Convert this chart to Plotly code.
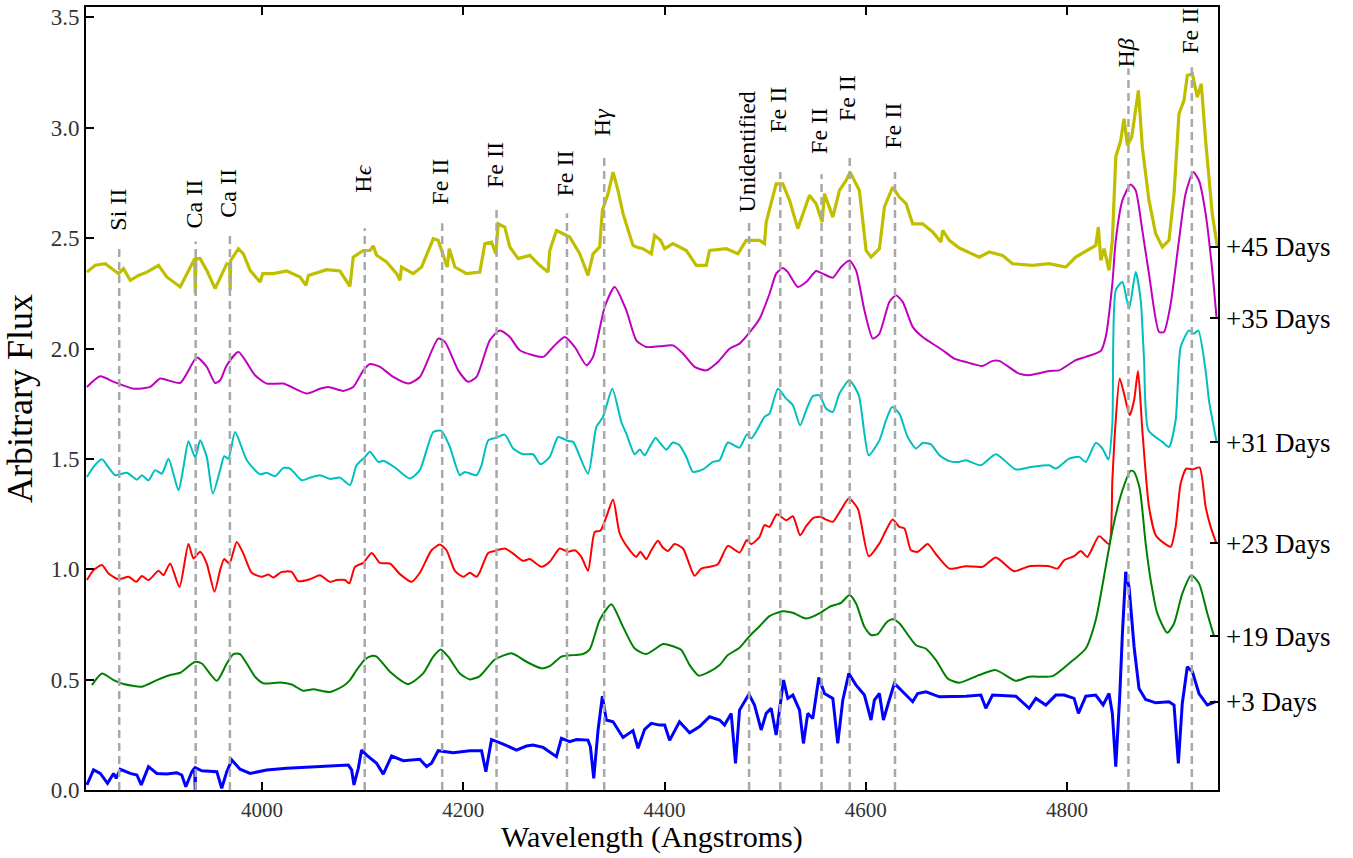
import plotly.graph_objects as go

# ---------------- data ----------------
w45 = [3825.9,3834.2,3844.1,3852.4,3857.4,3862.3,3869.0,3877.2,3885.5,3897.1,3905.3,3918.6,3928.5,3933.0,3933.6,3934.2,3938.4,3945.0,3953.3,3959.9,3964.9,3967.8,3968.3,3968.8,3976.5,3981.4,3988.1,3998.0,4000.6,4011.2,4024.5,4037.7,4043.6,4046.0,4064.2,4077.4,4084.0,4087.3,4090.6,4100.6,4107.2,4110.5,4113.8,4123.7,4133.7,4137.0,4138.6,4150.2,4158.5,4170.1,4175.0,4181.7,4184.0,4186.0,4191.6,4203.2,4216.4,4221.4,4228.0,4232.3,4234.6,4241.2,4246.2,4254.5,4266.0,4275.9,4284.2,4285.9,4292.5,4299.1,4305.7,4315.7,4323.9,4328.9,4335.5,4338.2,4343.8,4348.8,4353.7,4358.7,4368.6,4371.9,4378.5,4386.8,4390.1,4396.0,4400.1,4408.3,4421.6,4431.5,4441.4,4444.7,4461.3,4472.9,4481.1,4494.4,4499.3,4501.0,4510.9,4517.5,4524.2,4532.4,4537.4,4544.0,4550.6,4556.6,4558.9,4567.2,4573.8,4580.4,4584.4,4593.6,4600.3,4605.2,4613.5,4618.5,4626.7,4633.3,4640.0,4646.6,4656.5,4666.4,4674.7,4676.4,4683.0,4692.9,4712.7,4722.6,4735.8,4745.8,4765.6,4782.2,4798.7,4808.6,4828.5,4831.1,4833.5,4836.8,4841.7,4845.0,4848.4,4853.3,4856.6,4859.9,4864.2,4868.2,4870.9,4874.8,4881.4,4888.1,4894.7,4901.3,4906.3,4911.2,4916.2,4919.5,4924.5,4929.4,4933.4,4937.7,4944.3,4949.3]
f45 = [2.346,2.377,2.384,2.354,2.339,2.362,2.309,2.331,2.346,2.377,2.324,2.279,2.369,2.407,2.248,2.407,2.407,2.354,2.271,2.339,2.384,2.384,2.264,2.399,2.452,2.429,2.354,2.301,2.339,2.339,2.351,2.324,2.286,2.331,2.357,2.351,2.309,2.282,2.414,2.444,2.444,2.465,2.422,2.392,2.339,2.309,2.369,2.339,2.369,2.497,2.490,2.399,2.369,2.452,2.369,2.339,2.346,2.475,2.482,2.429,2.565,2.550,2.460,2.407,2.422,2.377,2.346,2.444,2.535,2.520,2.505,2.429,2.331,2.429,2.460,2.626,2.701,2.799,2.716,2.611,2.467,2.460,2.452,2.429,2.512,2.490,2.452,2.475,2.444,2.377,2.377,2.444,2.452,2.429,2.490,2.490,2.475,2.573,2.746,2.746,2.671,2.543,2.611,2.694,2.656,2.573,2.701,2.595,2.716,2.761,2.799,2.716,2.444,2.414,2.452,2.641,2.731,2.686,2.656,2.565,2.565,2.528,2.482,2.535,2.490,2.455,2.414,2.437,2.422,2.384,2.377,2.384,2.369,2.414,2.467,2.550,2.399,2.452,2.354,2.490,2.867,2.942,3.041,2.920,2.957,3.093,3.169,2.912,2.671,2.520,2.460,2.490,2.701,3.063,3.124,3.237,3.244,3.139,3.199,2.942,2.611,2.460]

w35 = [3825.9,3839.2,3852.4,3872.2,3888.8,3898.7,3918.6,3935.1,3945.0,3953.3,3958.3,3964.9,3976.5,3993.0,4004.6,4021.2,4044.3,4057.5,4065.8,4080.7,4090.6,4100.6,4107.2,4117.1,4130.4,4145.3,4156.8,4175.0,4181.7,4194.9,4204.8,4213.1,4226.3,4236.2,4246.2,4256.1,4279.3,4289.2,4300.8,4310.7,4322.3,4328.9,4340.5,4350.4,4362.0,4371.9,4381.8,4395.1,4408.3,4418.3,4429.8,4441.4,4453.0,4464.6,4474.5,4486.1,4494.4,4504.3,4510.9,4517.5,4522.5,4532.4,4540.7,4550.6,4557.2,4567.2,4575.4,4583.7,4590.3,4598.6,4606.9,4613.5,4623.4,4630.0,4636.7,4646.6,4656.5,4676.4,4687.9,4699.4,4716.0,4725.9,4732.5,4752.4,4762.3,4782.2,4792.1,4808.6,4818.6,4833.5,4838.4,4845.0,4848.4,4855.0,4863.2,4868.2,4874.8,4881.4,4891.4,4896.3,4903.0,4911.2,4917.8,4925.4,4931.1,4937.7,4944.3,4948.6]
f35 = [1.826,1.874,1.849,1.818,1.826,1.864,1.844,1.959,1.917,1.844,1.856,1.924,1.984,1.879,1.841,1.841,1.796,1.818,1.826,1.808,1.826,1.901,1.930,1.917,1.871,1.841,1.871,2.045,2.030,1.901,1.849,1.871,2.037,2.082,2.052,1.992,1.962,2.007,2.052,2.007,1.924,1.962,2.188,2.279,2.173,2.037,2.007,2.010,2.014,1.977,1.917,1.901,1.939,1.999,2.022,2.082,2.135,2.248,2.339,2.365,2.346,2.279,2.301,2.351,2.339,2.321,2.369,2.399,2.354,2.173,2.045,2.067,2.211,2.241,2.211,2.098,2.052,1.992,1.954,1.939,1.921,1.944,1.944,1.886,1.879,1.898,1.901,1.947,1.962,1.989,2.052,2.294,2.490,2.671,2.743,2.716,2.535,2.339,2.075,2.075,2.203,2.490,2.701,2.799,2.761,2.611,2.354,2.136]

w31 = [3825.9,3832.5,3840.8,3847.4,3854.0,3865.6,3875.6,3880.5,3887.1,3893.7,3900.4,3907.0,3916.9,3921.9,3926.8,3933.5,3938.4,3945.0,3951.0,3958.3,3962.3,3966.5,3973.2,3984.8,3998.0,4004.6,4012.9,4021.2,4027.8,4039.4,4047.6,4057.5,4067.5,4077.4,4087.3,4093.9,4102.2,4107.2,4115.5,4120.4,4132.0,4146.9,4156.8,4170.1,4178.3,4186.6,4196.5,4201.5,4213.1,4218.1,4224.7,4232.9,4241.2,4249.5,4259.4,4269.3,4276.6,4285.9,4294.2,4304.1,4309.1,4323.9,4332.2,4338.8,4348.1,4357.0,4362.0,4370.3,4375.3,4380.2,4385.2,4391.1,4395.0,4401.7,4408.3,4414.8,4421.6,4428.2,4438.1,4448.0,4454.7,4462.9,4474.5,4481.8,4486.1,4492.7,4499.3,4504.3,4512.6,4520.8,4527.5,4534.7,4540.7,4547.3,4553.9,4560.5,4567.2,4573.8,4583.7,4593.0,4598.6,4602.9,4613.5,4620.1,4626.1,4633.3,4641.6,4649.9,4656.5,4664.8,4673.1,4683.0,4692.9,4699.4,4714.3,4729.2,4749.1,4765.6,4782.2,4788.8,4802.0,4812.0,4818.6,4828.5,4835.1,4841.1,4845.0,4848.4,4855.0,4861.6,4868.2,4873.2,4876.5,4880.8,4894.7,4901.3,4907.9,4912.9,4921.2,4926.1,4930.4,4937.7,4941.0,4948.6]
f31 = [1.418,1.464,1.498,1.461,1.426,1.437,1.406,1.426,1.403,1.449,1.433,1.501,1.358,1.464,1.580,1.506,1.584,1.509,1.343,1.449,1.512,1.501,1.622,1.494,1.430,1.437,1.421,1.459,1.456,1.403,1.415,1.426,1.409,1.415,1.381,1.471,1.509,1.532,1.486,1.491,1.461,1.411,1.449,1.622,1.627,1.554,1.426,1.441,1.426,1.471,1.584,1.596,1.610,1.547,1.521,1.521,1.476,1.509,1.599,1.581,1.577,1.433,1.645,1.690,1.818,1.667,1.614,1.521,1.542,1.516,1.554,1.596,1.575,1.542,1.574,1.562,1.509,1.441,1.452,1.486,1.494,1.574,1.551,1.611,1.592,1.637,1.690,1.705,1.818,1.773,1.743,1.652,1.720,1.784,1.788,1.728,1.713,1.796,1.856,1.788,1.614,1.516,1.584,1.675,1.735,1.705,1.599,1.547,1.572,1.566,1.516,1.490,1.486,1.494,1.471,1.521,1.452,1.464,1.471,1.456,1.501,1.509,1.486,1.572,1.547,1.497,1.660,2.264,2.301,2.180,2.346,2.218,1.950,1.630,1.577,1.554,1.675,2.007,2.082,2.067,2.082,1.900,1.766,1.576]

w23 = [3825.9,3832.5,3840.8,3847.4,3857.4,3867.3,3874.9,3880.5,3887.1,3897.1,3902.0,3908.6,3917.9,3926.8,3931.8,3938.4,3945.0,3952.7,3958.3,3962.3,3967.5,3974.8,3981.4,3989.7,3999.6,4006.3,4011.2,4019.5,4029.4,4036.0,4047.6,4057.5,4067.5,4074.1,4082.4,4086.7,4092.3,4100.6,4108.9,4117.1,4127.1,4137.0,4148.6,4156.8,4168.4,4176.7,4183.3,4191.6,4199.9,4206.5,4213.1,4216.4,4224.7,4231.3,4241.2,4249.5,4259.4,4266.0,4277.6,4285.9,4295.8,4304.1,4310.7,4317.3,4323.9,4330.6,4336.2,4342.1,4348.8,4355.4,4363.6,4371.9,4375.9,4381.8,4386.8,4393.4,4398.0,4403.4,4410.0,4418.3,4424.9,4429.8,4436.5,4444.7,4453.0,4462.9,4474.5,4481.8,4486.1,4494.4,4499.3,4504.3,4511.6,4520.8,4527.5,4534.7,4540.7,4548.0,4555.6,4560.5,4567.2,4575.4,4583.1,4592.0,4602.9,4613.5,4620.1,4626.7,4633.3,4638.3,4644.9,4651.5,4661.5,4669.7,4683.0,4699.4,4716.0,4729.2,4747.4,4762.3,4782.2,4790.4,4797.1,4807.0,4813.6,4820.2,4831.8,4841.7,4845.0,4847.7,4852.3,4856.6,4862.3,4866.6,4870.5,4874.8,4881.4,4888.1,4894.7,4903.0,4907.9,4912.9,4918.5,4924.5,4931.7,4937.7,4942.7,4948.3]
f23 = [0.951,0.996,1.019,0.981,0.954,0.966,0.943,0.969,0.951,0.993,0.973,1.026,0.920,1.114,1.049,1.079,1.026,0.898,0.996,1.046,1.026,1.124,1.071,0.984,0.966,0.976,0.963,0.988,0.988,0.946,0.955,0.973,0.943,0.951,0.951,0.936,1.011,1.029,1.074,1.029,1.026,0.978,0.943,0.984,1.086,1.112,1.086,0.993,0.966,0.984,0.966,0.988,1.074,1.083,1.094,1.071,1.038,1.046,1.011,1.034,1.094,1.079,1.086,1.056,0.993,1.169,1.174,1.237,1.316,1.162,1.097,1.056,1.079,1.046,1.086,1.129,1.100,1.083,1.114,1.094,1.019,0.970,1.003,1.011,1.023,1.106,1.076,1.132,1.114,1.147,1.200,1.192,1.249,1.222,1.240,1.154,1.195,1.233,1.237,1.225,1.215,1.270,1.320,1.275,1.059,1.117,1.177,1.225,1.192,1.185,1.086,1.079,1.114,1.068,1.003,1.014,1.011,1.053,0.991,1.014,1.014,1.003,1.041,1.059,1.083,1.056,1.150,1.114,1.403,1.630,1.864,1.796,1.698,1.765,1.898,1.630,1.283,1.154,1.124,1.102,1.192,1.388,1.456,1.452,1.461,1.283,1.192,1.118]

w19 = [3830.9,3840.8,3852.4,3862.3,3880.5,3895.4,3908.6,3918.6,3933.5,3940.1,3955.0,3964.9,3971.5,3978.1,3993.0,4001.3,4017.9,4029.4,4040.6,4050.9,4067.5,4080.7,4087.3,4093.9,4102.2,4108.9,4113.8,4127.1,4145.3,4160.1,4170.1,4177.4,4185.0,4196.5,4206.5,4216.4,4231.3,4247.8,4262.7,4277.6,4285.9,4297.5,4309.1,4319.0,4325.6,4335.5,4347.1,4358.7,4370.3,4381.8,4398.4,4405.0,4416.6,4424.9,4434.1,4444.7,4454.7,4462.9,4474.5,4484.4,4494.4,4504.3,4517.5,4527.5,4540.7,4553.9,4563.9,4575.4,4583.7,4590.3,4598.6,4605.2,4611.8,4620.1,4626.7,4633.3,4649.9,4659.8,4669.7,4681.3,4692.9,4712.7,4729.2,4749.1,4762.3,4785.5,4802.0,4818.6,4828.5,4838.4,4845.0,4855.0,4863.2,4866.6,4872.2,4878.1,4883.1,4889.7,4899.6,4906.3,4914.5,4923.5,4931.1,4939.4,4946.0]
f19 = [0.475,0.528,0.498,0.480,0.468,0.498,0.521,0.531,0.581,0.573,0.495,0.573,0.616,0.616,0.513,0.483,0.487,0.478,0.450,0.456,0.444,0.471,0.498,0.543,0.591,0.607,0.604,0.536,0.480,0.528,0.604,0.637,0.604,0.528,0.501,0.516,0.591,0.619,0.581,0.551,0.561,0.604,0.611,0.616,0.637,0.770,0.842,0.739,0.641,0.616,0.661,0.656,0.634,0.566,0.518,0.536,0.566,0.611,0.644,0.697,0.742,0.788,0.810,0.803,0.777,0.800,0.830,0.848,0.883,0.845,0.739,0.702,0.706,0.757,0.773,0.755,0.656,0.640,0.588,0.505,0.486,0.521,0.543,0.495,0.513,0.516,0.573,0.641,0.770,1.011,1.177,1.358,1.446,1.441,1.366,1.117,0.951,0.800,0.712,0.754,0.890,0.973,0.936,0.800,0.697]

w3 = [3825.9,3832.5,3839.2,3846.4,3852.4,3855.0,3859.0,3868.9,3875.6,3879.9,3887.1,3895.4,3905.3,3915.3,3920.2,3924.2,3930.2,3933.0,3933.5,3934.0,3940.1,3955.0,3959.9,3964.9,3969.9,3978.1,3988.1,4004.6,4024.5,4044.3,4064.2,4085.7,4089.0,4091.3,4095.6,4098.9,4103.9,4107.2,4113.8,4120.4,4128.7,4140.3,4156.8,4163.5,4168.4,4175.0,4189.9,4206.5,4218.1,4222.4,4228.0,4239.6,4252.8,4262.7,4269.3,4279.3,4287.5,4292.5,4297.5,4305.7,4312.4,4323.9,4326.3,4329.6,4333.9,4338.2,4342.1,4348.8,4358.7,4368.6,4373.6,4380.2,4386.8,4395.1,4400.1,4405.0,4414.8,4424.9,4434.8,4444.7,4454.7,4459.6,4466.2,4470.5,4474.5,4483.8,4489.4,4496.0,4501.0,4505.9,4510.9,4518.2,4522.5,4527.5,4534.1,4538.0,4542.3,4547.3,4553.3,4558.9,4567.2,4572.1,4577.1,4583.1,4590.3,4598.6,4605.2,4608.5,4613.5,4617.5,4621.8,4628.4,4636.7,4646.6,4651.5,4659.8,4673.1,4692.9,4699.4,4714.3,4719.3,4725.9,4749.1,4762.3,4769.0,4778.9,4788.8,4797.1,4807.0,4811.3,4818.6,4828.5,4835.8,4841.7,4845.0,4848.4,4852.3,4855.0,4858.3,4861.6,4866.6,4871.5,4878.1,4888.1,4901.3,4906.3,4910.6,4914.5,4919.5,4924.5,4931.1,4939.4,4947.6]
f3 = [0.023,0.091,0.075,0.030,0.075,0.053,0.094,0.075,0.068,0.023,0.106,0.075,0.072,0.078,0.068,0.015,0.083,0.100,0.000,0.100,0.087,0.083,0.008,0.083,0.136,0.094,0.075,0.091,0.098,0.103,0.109,0.113,0.091,0.023,0.098,0.181,0.158,0.145,0.121,0.072,0.154,0.133,0.139,0.106,0.121,0.178,0.169,0.178,0.178,0.083,0.229,0.208,0.181,0.199,0.204,0.193,0.169,0.151,0.234,0.219,0.229,0.226,0.196,0.053,0.272,0.425,0.317,0.309,0.238,0.269,0.189,0.275,0.302,0.294,0.294,0.225,0.309,0.259,0.287,0.332,0.317,0.294,0.347,0.121,0.362,0.434,0.385,0.272,0.347,0.370,0.249,0.498,0.415,0.430,0.362,0.211,0.347,0.324,0.510,0.437,0.415,0.211,0.407,0.528,0.475,0.430,0.317,0.407,0.437,0.317,0.385,0.483,0.445,0.400,0.437,0.445,0.422,0.422,0.425,0.430,0.370,0.430,0.425,0.370,0.415,0.385,0.430,0.430,0.415,0.347,0.425,0.430,0.385,0.437,0.347,0.106,0.422,0.709,0.988,0.920,0.649,0.460,0.410,0.395,0.400,0.385,0.121,0.392,0.558,0.536,0.437,0.385,0.400]

day_labels = ["+45 Days", "+35 Days", "+31 Days", "+23 Days", "+19 Days", "+3 Days"]

line_wl = [3858, 3934, 3968, 4102, 4179, 4233, 4303, 4340, 4484, 4515, 4556, 4584, 4629, 4861, 4924]
line_top = [2.455, 2.485, 2.525, 2.545, 2.567, 2.644, 2.612, 2.879, 2.571, 2.80, 2.789, 2.879, 2.80, 3.268, 3.274]
label_y = [2.53, 2.54, 2.59, 2.70, 2.648, 2.72, 2.684, 2.956, 2.61, 2.974, 2.875, 3.024, 2.90, 3.268, 3.33]
line_names = ["Si II", "Ca II", "Ca II", "H<i>ϵ</i>", "Fe II", "Fe II", "Fe II", "H<i>γ</i>",
              "Unidentified", "Fe II", "Fe II", "Fe II", "Fe II", "H<i>β</i>", "Fe II"]

x_ticks = [4000, 4200, 4400, 4600, 4800]
y_ticks = [0.0, 0.5, 1.0, 1.5, 2.0, 2.5, 3.0, 3.5]
x_title = "Wavelength (Angstroms)"
y_title = "Arbitrary Flux"

# ---------------- figure ----------------
FONT = "Liberation Serif"
# (wavelengths, flux, colour, width, smooth?)
spectra = [
    (w45, f45, "#bfbf00", 3.2, False),
    (w35, f35, "#bf00bf", 2.0, True),
    (w31, f31, "#00bfbf", 2.0, True),
    (w23, f23, "#ff0000", 2.0, True),
    (w19, f19, "#008000", 2.0, True),
    (w3, f3, "#0000ff", 3.0, False),
]

fig = go.Figure()
for w, f, c, lw, smooth in spectra:
    line = dict(color=c, width=lw)
    if smooth:
        line.update(shape="spline", smoothing=0.6)
    fig.add_trace(go.Scatter(x=w, y=f, mode="lines", line=line,
                             showlegend=False, hoverinfo="skip"))

for wl, top in zip(line_wl, line_top):
    fig.add_trace(go.Scatter(x=[wl, wl], y=[0, top], mode="lines",
                             line=dict(color="#a8a8a8", width=2.5, dash="8px,5px"),
                             showlegend=False, hoverinfo="skip"))

for wl, ly, name in zip(line_wl, label_y, line_names):
    fig.add_annotation(x=wl, y=ly, text=name, textangle=-90, showarrow=False,
                       xanchor="center", yanchor="bottom", borderpad=0, xshift=-2,
                       font=dict(family=FONT, size=24, color="black"))

# x-axis title as an annotation below the tick labels
fig.add_annotation(x=0.5, y=0, xref="paper", yref="paper", text=x_title, showarrow=False,
                   xanchor="center", yanchor="top", yshift=-29, borderpad=0,
                   font=dict(family=FONT, size=30, color="black"))

# right-hand axis labels sit at the final flux of each spectrum
end_vals = [s[1][-1] for s in spectra]
fig.add_trace(go.Scatter(x=[None], y=[None], yaxis="y2", showlegend=False))

fig.update_layout(
    width=1353, height=858,
    margin=dict(l=86, r=135, t=7, b=68),
    paper_bgcolor="white", plot_bgcolor="white",
    xaxis=dict(range=[3825, 4950], tickvals=x_ticks, ticks="inside", ticklen=8, tickwidth=1.5,
               tickcolor="black", showline=True, linecolor="black", linewidth=2, mirror="ticks",
               showgrid=False, zeroline=False, ticklabelstandoff=0, automargin=False,
               tickfont=dict(family=FONT, size=21, color="#333")),
    yaxis=dict(range=[0, 3.547], tickvals=y_ticks, tickformat=".1f", ticks="inside", ticklen=8,
               tickwidth=1.5, tickcolor="black", showline=True, linecolor="black", linewidth=2,
               mirror=True, showgrid=False, zeroline=False, automargin=False,
               tickfont=dict(family=FONT, size=23, color="#333"),
               title=dict(text=y_title, font=dict(family=FONT, size=36, color="black"),
                          standoff=8)),
    yaxis2=dict(range=[0, 3.547], overlaying="y", side="right", tickvals=end_vals,
                ticktext=day_labels, ticks="inside", ticklen=8, tickwidth=1.5, tickcolor="black",
                showgrid=False, zeroline=False, showline=False, ticklabelstandoff=7, automargin=False,
                tickfont=dict(family=FONT, size=27, color="black")),
)

fig.write_html("out.html")
